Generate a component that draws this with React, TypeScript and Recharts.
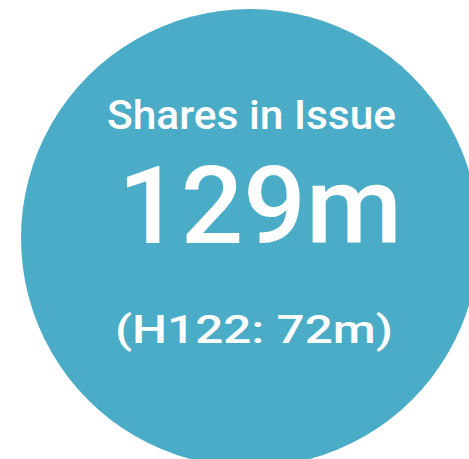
import { PieChart, Pie, Cell, Label } from 'recharts';

const slices = [{ name: 'Shares in Issue', value: 129 }];
const titleText = 'Shares in Issue';
const valueText = '129m';
const compareText = '(H122: 72m)';

const FONT = 'Roboto, "Liberation Sans", Arial, sans-serif';

function CenterText({ viewBox }: any) {
    const cx = viewBox?.cx ?? 250;
    const cy = viewBox?.cy ?? 238;
    return (
        <g fill="#ffffff" fontFamily={FONT} fontWeight={500} textAnchor="middle">
            <text x={cx + 1.5} y={cy - 109} fontSize={40} textLength={289} lengthAdjust="spacingAndGlyphs">{titleText}</text>
            <text x={cx + 10} y={cy + 5} fontSize={108} textLength={284} lengthAdjust="spacingAndGlyphs">{valueText}</text>
            <text x={cx + 4} y={cy + 105} fontSize={39} textLength={278} lengthAdjust="spacingAndGlyphs">{compareText}</text>
        </g>
    );
}

export default function App() {
    return (
        <div style={{ position: 'absolute', left: 0, top: 0 }}>
            <PieChart width={469} height={459} margin={{ top: 0, right: 0, bottom: 0, left: 0 }}>
                <Pie
                    data={slices}
                    dataKey="value"
                    cx={250}
                    cy={238}
                    innerRadius={0}
                    outerRadius={229}
                    startAngle={90}
                    endAngle={-270}
                    stroke="none"
                    isAnimationActive={false}
                >
                    <Cell fill="#4aacc6" />
                    <Label position="center" content={CenterText} />
                </Pie>
            </PieChart>
        </div>
    );
}
